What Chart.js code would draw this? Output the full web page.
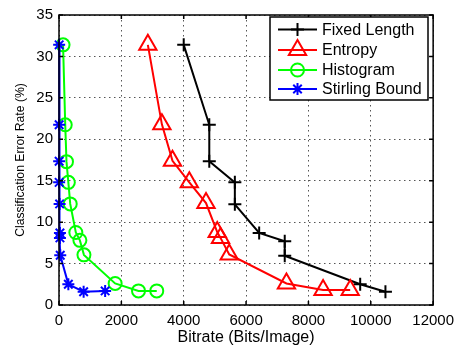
<!DOCTYPE html>
<html><head><meta charset="utf-8">
<script src="https://cdn.jsdelivr.net/npm/chart.js@4/dist/chart.umd.min.js"></script>
<style>html,body{margin:0;padding:0;background:#fff}canvas{display:block}</style>
</head><body>
<canvas id="c" width="461" height="349"></canvas>
<script>
const seriesNames = ['Fixed Length', 'Entropy', 'Histogram', 'Stirling Bound'];
const fixedX = [4000, 4820, 4820, 5640, 5640, 6420, 7240, 7240, 9660, 10470];
const fixedY = [31.4, 21.75, 17.35, 14.8, 12.15, 8.7, 7.7, 5.95, 2.5, 1.6];
const entropyX = [2850, 3300, 3640, 4180, 4715, 5075, 5180, 5460, 7295, 8470, 9340];
const entropyY = [31.4, 21.8, 17.4, 14.8, 12.3, 8.8, 8.1, 6.1, 2.6, 1.8, 1.8];
const histX = [130, 200, 240, 300, 360, 540, 670, 800, 1800, 2550, 3135];
const histY = [31.4, 21.75, 17.3, 14.8, 12.2, 8.75, 7.8, 6.05, 2.6, 1.7, 1.7];
const stirX = [5, 5, 5, 5, 20, 30, 30, 40, 300, 790, 1480];
const stirY = [31.4, 21.75, 17.35, 14.8, 12.2, 8.7, 8.1, 6.0, 2.5, 1.6, 1.7];
const xTicks = [0, 2000, 4000, 6000, 8000, 10000, 12000];
const yTicks = [0, 5, 10, 15, 20, 25, 30, 35];
const xTitle = 'Bitrate (Bits/Image)';
const yTitle = 'Classification Error Rate (%)';

const FONT = "'Liberation Sans', Arial, Helvetica, sans-serif";
const pts = (xs, ys) => xs.map((x, i) => ({x: x, y: ys[i]}));

const styles = [
  {color: '#000000', pointStyle: 'cross', radius: 6.5, order: 4},
  {color: '#ff0000', pointStyle: 'triangle', radius: 10, order: 3},
  {color: '#00ff00', pointStyle: 'circle', radius: 6.5, order: 2},
  {color: '#0000ff', pointStyle: 'star', radius: 6, order: 1}
];
const seriesData = [pts(fixedX, fixedY), pts(entropyX, entropyY), pts(histX, histY), pts(stirX, stirY)];

const datasets = seriesNames.map((name, i) => ({
  label: name,
  data: seriesData[i],
  showLine: true,
  borderColor: styles[i].color,
  backgroundColor: 'rgba(0,0,0,0)',
  borderWidth: 2,
  pointStyle: styles[i].pointStyle,
  pointRadius: styles[i].radius,
  pointHoverRadius: styles[i].radius,
  pointBorderColor: styles[i].color,
  pointBackgroundColor: 'rgba(0,0,0,0)',
  pointBorderWidth: 2,
  order: styles[i].order,
  clip: false,
  tension: 0
}));

function drawMarker(ctx, style, x, y, r) {
  ctx.beginPath();
  if (style === 'cross') {
    ctx.moveTo(x - r, y); ctx.lineTo(x + r, y);
    ctx.moveTo(x, y - r); ctx.lineTo(x, y + r);
  } else if (style === 'triangle') {
    for (let k = 0; k < 3; k++) {
      const a = k * 2 * Math.PI / 3;
      const px = x + Math.sin(a) * r, py = y - Math.cos(a) * r;
      if (k === 0) ctx.moveTo(px, py); else ctx.lineTo(px, py);
    }
    ctx.closePath();
  } else if (style === 'circle') {
    ctx.arc(x, y, r, 0, Math.PI * 2);
  } else if (style === 'star') {
    for (let k = 0; k < 4; k++) {
      const a = k * Math.PI / 4;
      ctx.moveTo(x - Math.sin(a) * r, y - Math.cos(a) * r);
      ctx.lineTo(x + Math.sin(a) * r, y + Math.cos(a) * r);
    }
  }
  ctx.stroke();
}

const framePlugin = {
  id: 'frame',
  afterDraw(chart) {
    const {ctx, chartArea: a, scales} = chart;
    ctx.save();
    ctx.strokeStyle = '#000';
    ctx.lineWidth = 1.5;
    // inward ticks
    const tl = 4;
    ctx.beginPath();
    xTicks.forEach(v => {
      const px = scales.x.getPixelForValue(v);
      ctx.moveTo(px, a.bottom); ctx.lineTo(px, a.bottom - tl);
      ctx.moveTo(px, a.top); ctx.lineTo(px, a.top + tl);
    });
    yTicks.forEach(v => {
      const py = scales.y.getPixelForValue(v);
      ctx.moveTo(a.left, py); ctx.lineTo(a.left + tl, py);
      ctx.moveTo(a.right, py); ctx.lineTo(a.right - tl, py);
    });
    ctx.stroke();
    ctx.strokeRect(a.left, a.top, a.right - a.left, a.bottom - a.top);

    // legend
    const bx = 270, by = 17, bw = 158, bh = 83;
    ctx.fillStyle = '#fff';
    ctx.fillRect(bx, by, bw, bh);
    ctx.lineWidth = 1.5;
    ctx.strokeStyle = '#000';
    ctx.strokeRect(bx, by, bw, bh);
    const rows = [29.5, 50, 70, 89];
    ctx.font = '16px ' + FONT;
    ctx.textBaseline = 'middle';
    ctx.textAlign = 'left';
    seriesNames.forEach((name, i) => {
      const y = rows[i];
      ctx.strokeStyle = styles[i].color;
      ctx.lineWidth = 2;
      ctx.beginPath(); ctx.moveTo(278, y); ctx.lineTo(317, y); ctx.stroke();
      drawMarker(ctx, styles[i].pointStyle, 297.5, y, styles[i].radius);
      ctx.fillStyle = '#000';
      ctx.fillText(name, 322, y + 1);
    });
    ctx.restore();
  }
};

new Chart(document.getElementById('c'), {
  type: 'scatter',
  data: {datasets: datasets},
  options: {
    responsive: false,
    animation: false,
    devicePixelRatio: 1,
    layout: {padding: {left: 0, top: 11, right: 27, bottom: 0}},
    plugins: {legend: {display: false}, tooltip: {enabled: false}},
    scales: {
      x: {
        type: 'linear', min: 0, max: 12000,
        afterBuildTicks: s => { s.ticks = xTicks.map(v => ({value: v})); },
        afterFit: s => { s.height = 44; },
        ticks: {font: {family: FONT, size: 15}, color: '#000', padding: 7, maxRotation: 0, autoSkip: false,
                callback: v => String(v)},
        grid: {color: '#555', lineWidth: 1, drawTicks: false, borderDash: [1.5, 3.5]},
        border: {display: false, dash: [1.5, 3.5]},
        title: {display: true, text: xTitle, color: '#000', font: {family: FONT, size: 16}, padding: {top: 0, bottom: 2}}
      },
      y: {
        type: 'linear', min: 0, max: 35,
        afterBuildTicks: s => { s.ticks = yTicks.map(v => ({value: v})); },
        afterFit: s => { s.width = 59; },
        ticks: {font: {family: FONT, size: 15}, color: '#000', padding: 6, autoSkip: false},
        grid: {color: '#555', lineWidth: 1, drawTicks: false, borderDash: [1.5, 3.5]},
        border: {display: false, dash: [1.5, 3.5]},
        title: {display: true, text: yTitle, color: '#000', font: {family: FONT, size: 12.2}, padding: {top: 13, bottom: 0}}
      }
    }
  },
  plugins: [framePlugin]
});
</script>
</body></html>
